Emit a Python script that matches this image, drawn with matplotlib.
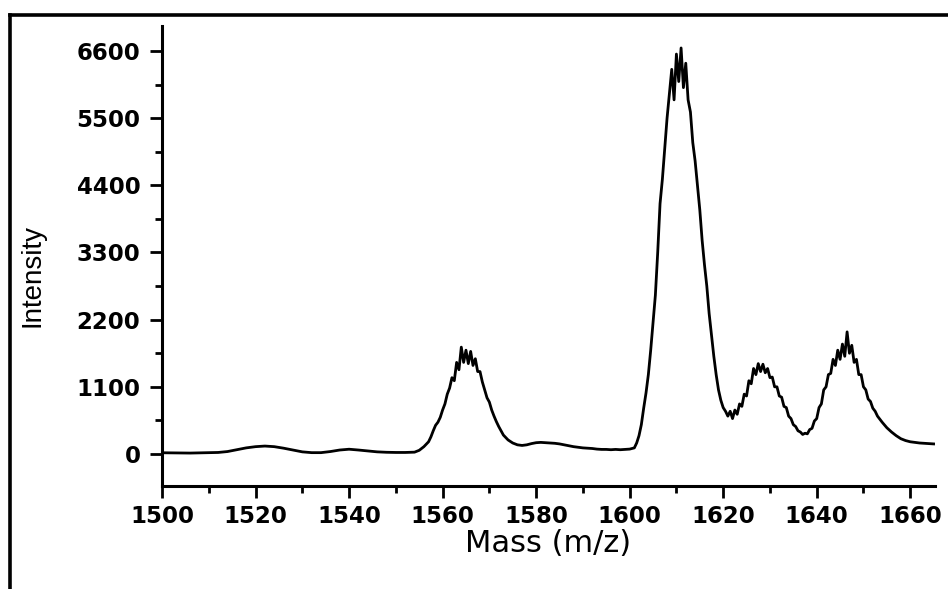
import matplotlib
matplotlib.use("Agg")
import matplotlib.pyplot as plt
from matplotlib.lines import Line2D
from matplotlib.ticker import MultipleLocator

# mass spectrum, values
mass = [1500, 1502, 1504, 1506, 1508, 1510, 1512, 1514, 1516, 1518, 1520,
        1522, 1524, 1526, 1528, 1530, 1532, 1534, 1536, 1538, 1540, 1542,
        1544, 1546, 1548, 1550, 1552, 1554,
        1555, 1556, 1557, 1557.5, 1558, 1558.5, 1559, 1559.5, 1560, 1560.5,
        1561, 1561.5, 1562, 1562.5, 1563, 1563.5, 1564, 1564.5, 1565, 1565.5,
        1566, 1566.5, 1567, 1567.5, 1568, 1568.5, 1569, 1569.5, 1570, 1570.5,
        1571, 1571.5, 1572, 1572.5, 1573, 1573.5, 1574, 1575, 1576, 1577,
        1578, 1579, 1580, 1581, 1582, 1583, 1584, 1585, 1586, 1587, 1588,
        1589, 1590, 1591, 1592, 1593, 1594, 1595, 1596, 1597, 1598, 1599,
        1600, 1601, 1601.5, 1602, 1602.5, 1603, 1603.5, 1604, 1604.5, 1605,
        1605.5, 1606, 1606.5, 1607, 1607.5, 1608, 1608.5, 1609, 1609.5, 1610,
        1610.5, 1611, 1611.5, 1612, 1612.5, 1613, 1613.5, 1614, 1614.5, 1615,
        1615.5, 1616, 1616.5, 1617, 1617.5, 1618, 1618.5, 1619, 1619.5, 1620,
        1620.5, 1621, 1621.5, 1622, 1622.5, 1623, 1623.5, 1624, 1624.5, 1625,
        1625.5, 1626, 1626.5, 1627, 1627.5, 1628, 1628.5, 1629, 1629.5, 1630,
        1630.5, 1631, 1631.5, 1632, 1632.5, 1633, 1633.5, 1634, 1634.5, 1635,
        1635.5, 1636, 1636.5, 1637, 1637.5, 1638, 1638.5, 1639, 1639.5, 1640,
        1640.5, 1641, 1641.5, 1642, 1642.5, 1643, 1643.5, 1644, 1644.5, 1645,
        1645.5, 1646, 1646.5, 1647, 1647.5, 1648, 1648.5, 1649, 1649.5, 1650,
        1650.5, 1651, 1651.5, 1652, 1652.5, 1653, 1654, 1655, 1656, 1657,
        1658, 1659, 1660, 1661, 1662, 1663, 1664, 1665]

intensity = [20, 18, 15, 15, 18, 20, 25, 40, 70, 100, 120,
             130, 120, 95, 65, 35, 22, 22, 40, 65, 78, 65,
             50, 35, 28, 25, 25, 30,
             60, 120, 200, 280, 380, 470, 520, 600, 720, 820,
             980, 1080, 1250, 1200, 1500, 1380, 1750, 1500, 1700, 1480,
             1680, 1450, 1560, 1350, 1350, 1180, 1050, 920, 850, 720,
             620, 530, 450, 380, 310, 270, 230, 180, 150, 140,
             150, 170, 185, 190, 185, 180, 175, 165, 150, 135, 120,
             110, 100, 95, 90, 80, 75, 75, 70, 75, 70, 75,
             80, 100, 180, 300, 480, 750, 1000, 1300, 1700, 2150,
             2600, 3300, 4100, 4500, 5000, 5500, 5900, 6300, 5800, 6550,
             6100, 6650, 6000, 6400, 5800, 5600, 5100, 4800, 4400, 4000,
             3500, 3100, 2750, 2300, 1950, 1600, 1300, 1050, 880, 760,
             700, 620, 700, 580, 720, 650, 820, 780, 980, 950,
             1200, 1150, 1400, 1300, 1480, 1350, 1470, 1330, 1400, 1250,
             1260, 1100, 1100, 950, 930, 780, 760, 620, 580, 480,
             450, 380, 360, 320, 340, 330, 400, 420, 540, 580,
             760, 820, 1050, 1100, 1300, 1320, 1550, 1450, 1700, 1550,
             1800, 1600, 2000, 1650, 1780, 1500, 1550, 1300, 1300, 1100,
             1050, 900, 860, 750, 700, 620, 520, 430, 360, 300,
             250, 220, 200, 190, 180, 175, 170, 165]

x_ticks = [1500, 1520, 1540, 1560, 1580, 1600, 1620, 1640, 1660]
y_ticks = [0, 1100, 2200, 3300, 4400, 5500, 6600]

fig = plt.figure(figsize=(9.48, 5.89), dpi=100)
ax = fig.add_axes([0.1709, 0.1749, 0.8154, 0.781])

ax.plot(mass, intensity, color="black", linewidth=2.0)

ax.set_xlim(1500, 1665.3)
ax.set_ylim(-524, 7010)
ax.set_xticks(x_ticks)
ax.set_yticks(y_ticks)
ax.xaxis.set_minor_locator(MultipleLocator(10))
ax.yaxis.set_minor_locator(MultipleLocator(550))

for s in ["top", "right"]:
    ax.spines[s].set_visible(False)
for s in ["left", "bottom"]:
    ax.spines[s].set_linewidth(2.2)

ax.tick_params(which="major", direction="out", length=8.5, width=2, pad=5)
ax.tick_params(which="minor", direction="out", length=5, width=2)
ax.tick_params(axis="y", which="major", pad=7)
for lab in ax.get_xticklabels() + ax.get_yticklabels():
    lab.set_fontfamily("DejaVu Sans")
    lab.set_fontweight("bold")
    lab.set_fontsize(16.5)

ax.set_xlabel("Mass (m/z)", fontsize=22, family="DejaVu Sans", labelpad=1)
ax.set_ylabel("Intensity", fontsize=20, family="Liberation Sans")
ax.yaxis.set_label_coords(46 / 948, 1 - 275 / 589, transform=fig.transFigure)

# outer frame around the picture (only left and top edges are visible)
fig.add_artist(Line2D([10 / 948, 1.0], [1 - 15 / 589, 1 - 15 / 589],
                      transform=fig.transFigure, color="black", linewidth=2.6))
fig.add_artist(Line2D([10 / 948, 10 / 948], [1 - 15 / 589, 0.0],
                      transform=fig.transFigure, color="black", linewidth=2.6))

fig.savefig("out.png", dpi=100)
